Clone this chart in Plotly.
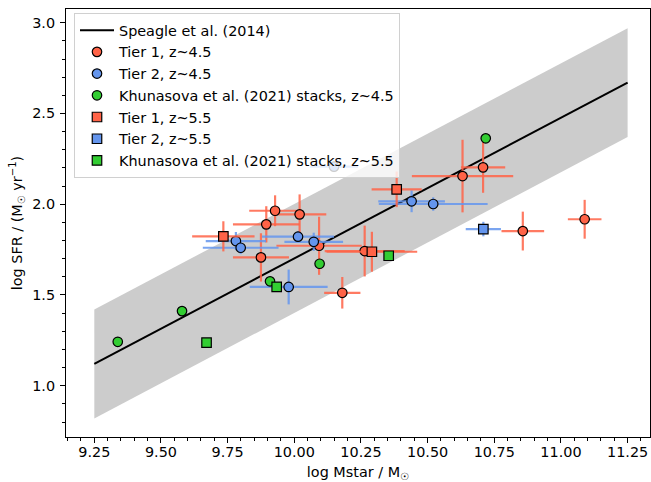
import plotly.graph_objects as go

# ---------------- data ----------------
speagle_x = [9.25, 11.25]
speagle_y = [1.12, 2.67]
band_lo = [0.82, 2.37]
band_hi = [1.42, 2.97]

t1_45_x = [9.875, 9.895, 9.928, 10.020, 10.093, 10.180, 10.264, 10.631, 10.708, 10.857, 11.089]
t1_45_y = [1.707, 1.889, 1.964, 1.944, 1.771, 1.512, 1.742, 2.155, 2.203, 1.852, 1.917]
t1_45_xerr = [0.105, 0.125, 0.097, 0.100, 0.160, 0.068, 0.150, 0.190, 0.083, 0.080, 0.063]
t1_45_yerr = [0.133, 0.100, 0.085, 0.110, 0.160, 0.087, 0.140, 0.200, 0.140, 0.107, 0.107]

t2_45_x = [9.781, 9.799, 9.979, 10.014, 10.073, 10.149, 10.440, 10.521]
t2_45_y = [1.797, 1.760, 1.544, 1.821, 1.793, 2.207, 2.016, 2.001]
t2_45_xerr = [0.113, 0.142, 0.146, 0.135, 0.110, 0.090, 0.125, 0.204]
t2_45_yerr = [0.050, 0.035, 0.096, 0.030, 0.050, 0.030, 0.060, 0.037]

kh_45_x = [9.338, 9.579, 9.909, 10.095, 10.718]
kh_45_y = [1.242, 1.411, 1.575, 1.672, 2.363]

t1_55_x = [9.734, 10.291, 10.384]
t1_55_y = [1.823, 1.738, 2.082]
t1_55_xerr = [0.117, 0.170, 0.094]
t1_55_yerr = [0.083, 0.110, 0.098]

t2_55_x = [10.709]
t2_55_y = [1.863]
t2_55_xerr = [0.066]
t2_55_yerr = [0.040]

kh_55_x = [9.671, 9.934, 10.354]
kh_55_y = [1.237, 1.545, 1.716]

# ---------------- styling ----------------
RED = "#FF6347"
BLUE = "#6495ED"
GREEN = "#32CD32"
RED_ERR = "rgba(255,99,71,0.85)"
BLUE_ERR = "rgba(100,149,237,0.85)"
FONT = "DejaVu Sans"
FS = 14.4

fig = go.Figure()

# band
fig.add_trace(go.Scatter(x=speagle_x, y=band_lo, mode="lines", line=dict(width=0),
                         showlegend=False, hoverinfo="skip"))
fig.add_trace(go.Scatter(x=speagle_x, y=band_hi, mode="lines", line=dict(width=0),
                         fill="tonexty", fillcolor="#cccccc", showlegend=False, hoverinfo="skip"))

fig.add_trace(go.Scatter(x=speagle_x, y=speagle_y, mode="lines",
                         line=dict(color="black", width=2), name="Speagle et al. (2014)"))


def pts(x, y, color, symbol, name, xerr=None, yerr=None, ecol=None):
    kw = {}
    if xerr is not None:
        kw["error_x"] = dict(type="data", array=xerr, color=ecol, thickness=2.2, width=0)
        kw["error_y"] = dict(type="data", array=yerr, color=ecol, thickness=2.2, width=0)
    fig.add_trace(go.Scatter(x=x, y=y, mode="markers", name=name,
                             marker=dict(color=color, symbol=symbol, size=9.5,
                                         line=dict(color="black", width=1.2)),
                             **kw))


pts(t1_45_x, t1_45_y, RED, "circle", "Tier 1, z~4.5", t1_45_xerr, t1_45_yerr, RED_ERR)
pts(t2_45_x, t2_45_y, BLUE, "circle", "Tier 2, z~4.5", t2_45_xerr, t2_45_yerr, BLUE_ERR)
pts(kh_45_x, kh_45_y, GREEN, "circle", "Khunasova et al. (2021) stacks, z~4.5")
pts(t1_55_x, t1_55_y, RED, "square", "Tier 1, z~5.5", t1_55_xerr, t1_55_yerr, RED_ERR)
pts(t2_55_x, t2_55_y, BLUE, "square", "Tier 2, z~5.5", t2_55_xerr, t2_55_yerr, BLUE_ERR)
pts(kh_55_x, kh_55_y, GREEN, "square", "Khunasova et al. (2021) stacks, z~5.5")

axis_common = dict(
    showgrid=False, zeroline=False, showline=True, linecolor="black", linewidth=1.1,
    mirror=True, ticks="outside", ticklen=5, tickwidth=1.1, tickcolor="black",
    tickfont=dict(family=FONT, size=FS, color="black"),
)

fig.update_xaxes(
    range=[9.1439, 11.334], tick0=9.25, dtick=0.25, tickformat=".2f",
    minor=dict(dtick=0.05, ticks="outside", ticklen=3, tickwidth=1, tickcolor="black"),
    title=dict(text="log Mstar / M<sub>☉</sub>", font=dict(family=FONT, size=FS, color="black"),
               standoff=10),
    ticklabelstandoff=-3,
    **axis_common,
)
fig.update_yaxes(
    range=[0.7174, 3.0755], tick0=0, dtick=0.5, tickformat=".1f",
    minor=dict(dtick=0.1, ticks="outside", ticklen=3, tickwidth=1, tickcolor="black"),
    title=dict(text="log SFR / (M<sub>☉</sub> yr<sup>−1</sup>)",
               font=dict(family=FONT, size=FS, color="black"), standoff=6),
    ticklabelstandoff=2,
    **axis_common,
)

fig.update_layout(
    width=651, height=482,
    margin=dict(l=66, r=1, t=9, b=45),
    plot_bgcolor="white", paper_bgcolor="white",
    font=dict(family=FONT, size=FS, color="black"),
    legend=dict(x=0.0137, y=0.99, xanchor="left", yanchor="top", traceorder="normal",
                bgcolor="rgba(255,255,255,0.8)", bordercolor="#d0d0d0", borderwidth=1,
                font=dict(family=FONT, size=FS, color="black"),
                tracegroupgap=0, itemwidth=34),
    showlegend=True,
)

fig.write_html("out.html")
